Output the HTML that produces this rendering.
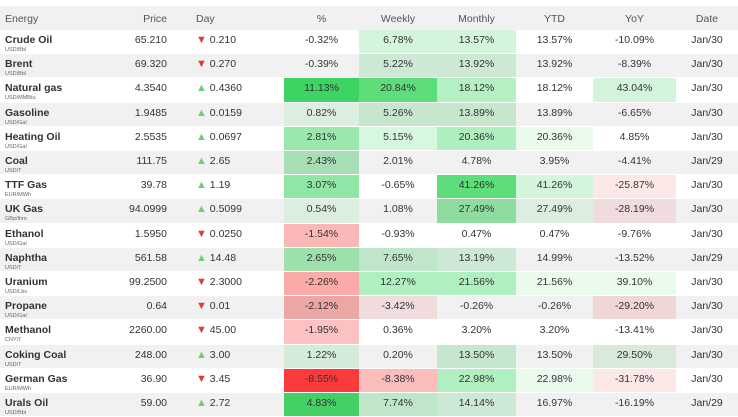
<!DOCTYPE html><html><head><style>
body{margin:0;width:738px;height:416px;background:#fff;font-family:"Liberation Sans",sans-serif;color:#333;overflow:hidden;position:relative}
.r{position:absolute;left:0;width:738px;height:24.2px;display:flex;font-size:10.5px}
.g{background:#f1f1f1}
.r>div{height:100%;box-sizing:border-box;padding-top:4px;text-align:center;border-bottom:1px solid #fff}
.c0{width:110px;text-align:left!important;padding-left:5px}
.c1{width:85px;text-align:right!important;padding-right:28px}
.c2{width:89px;text-align:left!important;padding-left:1px}
.c3{width:75px}.c4{width:78px}.c5{width:79px}.c6{width:77px}.c7{width:83px}.c8{width:62px}
.n{font-weight:bold;font-size:10.5px;color:#333;display:block}
.u{font-size:5.5px;color:#666;display:block;margin-top:1px}
.d{color:#e53935;font-size:11px}.up{color:#6fcf6f;font-size:11px}
.h{top:6px;height:24px;background:#f1f1f1;color:#555}
.h>div{padding-top:7px;border-bottom:none}
</style></head><body>
<div class="r h"><div class="c0">Energy</div><div class="c1">Price</div><div class="c2">Day</div><div class="c3">%</div><div class="c4">Weekly</div><div class="c5">Monthly</div><div class="c6">YTD</div><div class="c7">YoY</div><div class="c8">Date</div></div>

<div class="r" style="top:30px"><div class="c0"><span class="n">Crude Oil</span><span class="u">USD/Bbl</span></div><div class="c1">65.210</div><div class="c2"><span class="d">▼</span> 0.210</div><div class="c3">-0.32%</div><div class="c4" style="background:#d4f5dc">6.78%</div><div class="c5" style="background:#d4f5dc">13.57%</div><div class="c6">13.57%</div><div class="c7">-10.09%</div><div class="c8">Jan/30</div></div>

<div class="r g" style="top:54.2px"><div class="c0"><span class="n">Brent</span><span class="u">USD/Bbl</span></div><div class="c1">69.320</div><div class="c2"><span class="d">▼</span> 0.270</div><div class="c3">-0.39%</div><div class="c4" style="background:#cde8d4">5.22%</div><div class="c5" style="background:#cde8d4">13.92%</div><div class="c6">13.92%</div><div class="c7">-8.39%</div><div class="c8">Jan/30</div></div>

<div class="r" style="top:78.4px"><div class="c0"><span class="n">Natural gas</span><span class="u">USD/MMBtu</span></div><div class="c1">4.3540</div><div class="c2"><span class="up">▲</span> 0.4360</div><div class="c3" style="background:#3dd463">11.13%</div><div class="c4" style="background:#5ede7a">20.84%</div><div class="c5" style="background:#b4f0c3">18.12%</div><div class="c6">18.12%</div><div class="c7" style="background:#d4f5dc">43.04%</div><div class="c8">Jan/30</div></div>

<div class="r g" style="top:102.6px"><div class="c0"><span class="n">Gasoline</span><span class="u">USD/Gal</span></div><div class="c1">1.9485</div><div class="c2"><span class="up">▲</span> 0.0159</div><div class="c3" style="background:#dbeedf">0.82%</div><div class="c4" style="background:#c6e6cd">5.26%</div><div class="c5" style="background:#c6e6cd">13.89%</div><div class="c6">13.89%</div><div class="c7">-6.65%</div><div class="c8">Jan/30</div></div>

<div class="r" style="top:126.8px"><div class="c0"><span class="n">Heating Oil</span><span class="u">USD/Gal</span></div><div class="c1">2.5535</div><div class="c2"><span class="up">▲</span> 0.0697</div><div class="c3" style="background:#9be8ae">2.81%</div><div class="c4" style="background:#d8f7df">5.15%</div><div class="c5" style="background:#aeeebf">20.36%</div><div class="c6" style="background:#eafbee">20.36%</div><div class="c7">4.85%</div><div class="c8">Jan/30</div></div>

<div class="r g" style="top:151px"><div class="c0"><span class="n">Coal</span><span class="u">USD/T</span></div><div class="c1">111.75</div><div class="c2"><span class="up">▲</span> 2.65</div><div class="c3" style="background:#a7deb4">2.43%</div><div class="c4">2.01%</div><div class="c5">4.78%</div><div class="c6">3.95%</div><div class="c7">-4.41%</div><div class="c8">Jan/29</div></div>

<div class="r" style="top:175.2px"><div class="c0"><span class="n">TTF Gas</span><span class="u">EUR/MWh</span></div><div class="c1">39.78</div><div class="c2"><span class="up">▲</span> 1.19</div><div class="c3" style="background:#8fe6a5">3.07%</div><div class="c4">-0.65%</div><div class="c5" style="background:#5ede7a">41.26%</div><div class="c6" style="background:#d4f5dc">41.26%</div><div class="c7" style="background:#fde8e8">-25.87%</div><div class="c8">Jan/30</div></div>

<div class="r g" style="top:199.4px"><div class="c0"><span class="n">UK Gas</span><span class="u">GBp/thm</span></div><div class="c1">94.0999</div><div class="c2"><span class="up">▲</span> 0.5099</div><div class="c3" style="background:#dbeedf">0.54%</div><div class="c4">1.08%</div><div class="c5" style="background:#8fdca0">27.49%</div><div class="c6" style="background:#dbeedf">27.49%</div><div class="c7" style="background:#f0dcdc">-28.19%</div><div class="c8">Jan/30</div></div>

<div class="r" style="top:223.6px"><div class="c0"><span class="n">Ethanol</span><span class="u">USD/Gal</span></div><div class="c1">1.5950</div><div class="c2"><span class="d">▼</span> 0.0250</div><div class="c3" style="background:#fbb8b8">-1.54%</div><div class="c4">-0.93%</div><div class="c5">0.47%</div><div class="c6">0.47%</div><div class="c7">-9.76%</div><div class="c8">Jan/30</div></div>

<div class="r g" style="top:247.8px"><div class="c0"><span class="n">Naphtha</span><span class="u">USD/T</span></div><div class="c1">561.58</div><div class="c2"><span class="up">▲</span> 14.48</div><div class="c3" style="background:#9ee0ac">2.65%</div><div class="c4" style="background:#bfe6c8">7.65%</div><div class="c5" style="background:#cde8d4">13.19%</div><div class="c6">14.99%</div><div class="c7">-13.52%</div><div class="c8">Jan/29</div></div>

<div class="r" style="top:272px"><div class="c0"><span class="n">Uranium</span><span class="u">USD/Lbs</span></div><div class="c1">99.2500</div><div class="c2"><span class="d">▼</span> 2.3000</div><div class="c3" style="background:#fba9a9">-2.26%</div><div class="c4" style="background:#b0efc0">12.27%</div><div class="c5" style="background:#b0efc0">21.56%</div><div class="c6" style="background:#eafbee">21.56%</div><div class="c7" style="background:#eafbee">39.10%</div><div class="c8">Jan/30</div></div>

<div class="r g" style="top:296.2px"><div class="c0"><span class="n">Propane</span><span class="u">USD/Gal</span></div><div class="c1">0.64</div><div class="c2"><span class="d">▼</span> 0.01</div><div class="c3" style="background:#eba6a6">-2.12%</div><div class="c4" style="background:#f0dcdc">-3.42%</div><div class="c5">-0.26%</div><div class="c6">-0.26%</div><div class="c7" style="background:#f0d6d6">-29.20%</div><div class="c8">Jan/30</div></div>

<div class="r" style="top:320.4px"><div class="c0"><span class="n">Methanol</span><span class="u">CNY/T</span></div><div class="c1">2260.00</div><div class="c2"><span class="d">▼</span> 45.00</div><div class="c3" style="background:#fcc2c2">-1.95%</div><div class="c4">0.36%</div><div class="c5">3.20%</div><div class="c6">3.20%</div><div class="c7">-13.41%</div><div class="c8">Jan/30</div></div>

<div class="r g" style="top:344.6px"><div class="c0"><span class="n">Coking Coal</span><span class="u">USD/T</span></div><div class="c1">248.00</div><div class="c2"><span class="up">▲</span> 3.00</div><div class="c3" style="background:#d4ebd9">1.22%</div><div class="c4">0.20%</div><div class="c5" style="background:#c6e6cd">13.50%</div><div class="c6">13.50%</div><div class="c7" style="background:#d8eadc">29.50%</div><div class="c8">Jan/30</div></div>

<div class="r" style="top:368.8px"><div class="c0"><span class="n">German Gas</span><span class="u">EUR/MWh</span></div><div class="c1">36.90</div><div class="c2"><span class="d">▼</span> 3.45</div><div class="c3" style="background:#f93b3b">-8.55%</div><div class="c4" style="background:#fbbcbc">-8.38%</div><div class="c5" style="background:#b0efc0">22.98%</div><div class="c6" style="background:#eafbee">22.98%</div><div class="c7" style="background:#fde8e8">-31.78%</div><div class="c8">Jan/30</div></div>

<div class="r g" style="top:393px"><div class="c0"><span class="n">Urals Oil</span><span class="u">USD/Bbl</span></div><div class="c1">59.00</div><div class="c2"><span class="up">▲</span> 2.72</div><div class="c3" style="background:#45d065">4.83%</div><div class="c4" style="background:#bfe6c8">7.74%</div><div class="c5" style="background:#cde8d4">14.14%</div><div class="c6">16.97%</div><div class="c7">-16.19%</div><div class="c8">Jan/29</div></div>
</body></html>
